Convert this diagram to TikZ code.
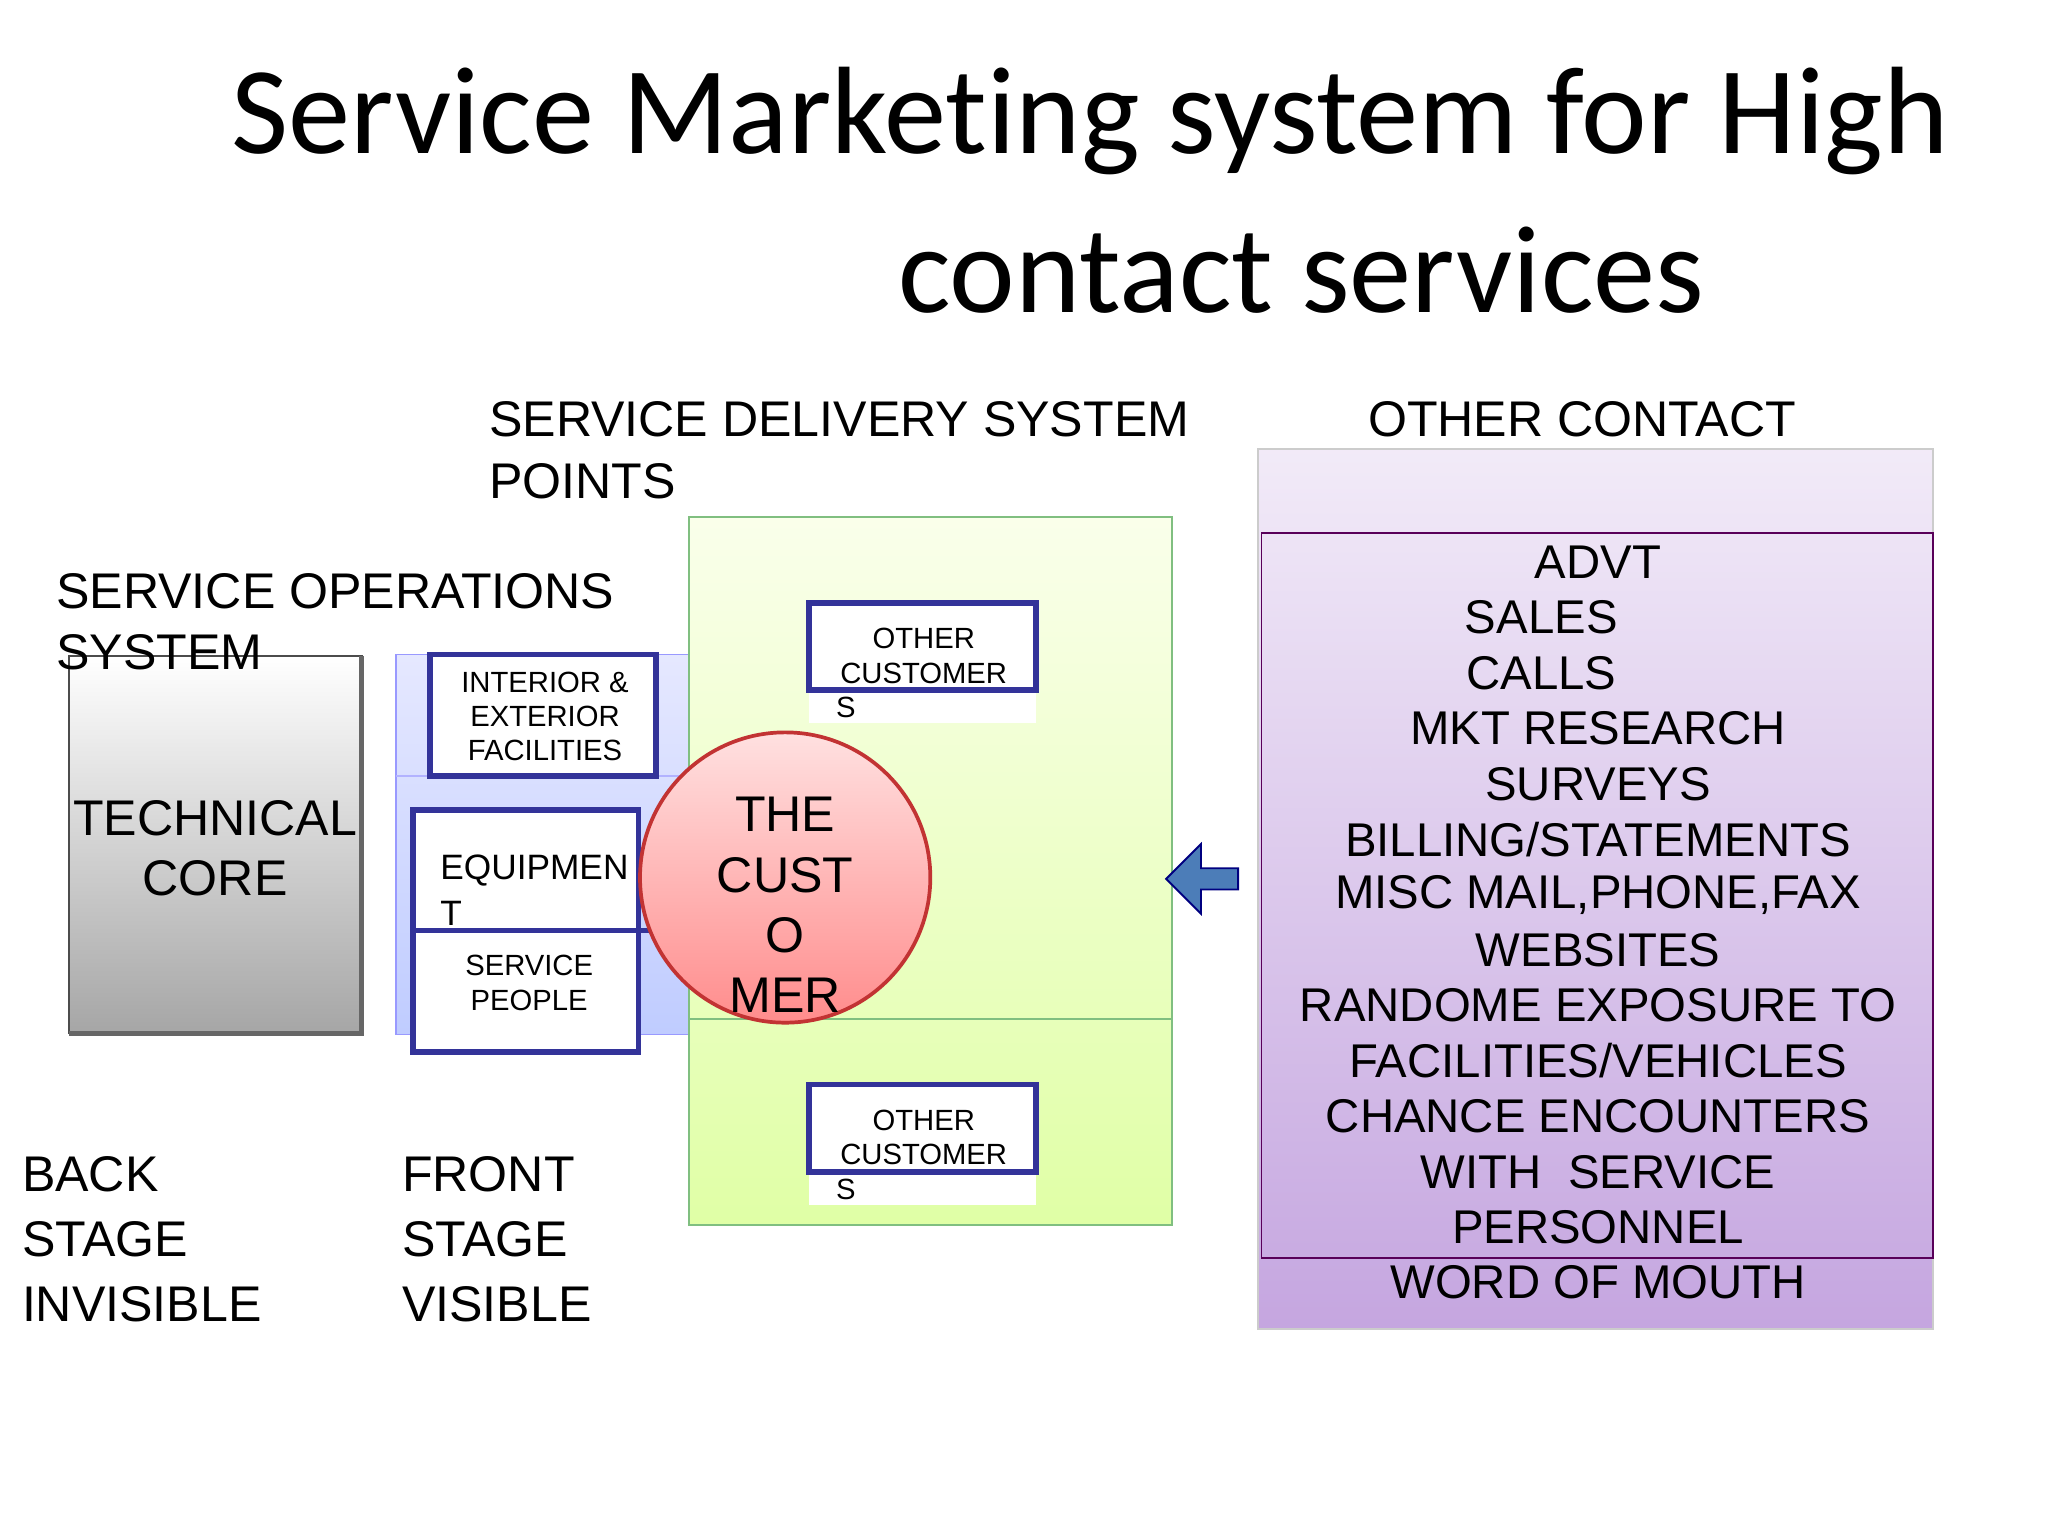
\documentclass[tikz,border=0pt]{standalone}
\usepackage{fontspec}
\setmainfont{Liberation Sans}
\newfontfamily\titlefont[Ligatures=NoCommon]{Carlito}
\usetikzlibrary{shapes.arrows}
\begin{document}
\begin{tikzpicture}[x=0.01cm,y=-0.01cm,
  big/.style={font=\fontsize{10.8}{13}\selectfont},
  sm/.style={font=\fontsize{6.3}{7.4}\selectfont},
  inbox/.style={draw=blue!50!black!80,line width=1.2pt,fill=white},
  lbl/.style={anchor=west,inner sep=0pt,align=left}]
\useasboundingbox (0,0) rectangle (1552,1164);
\node[font=\titlefont\fontsize{26.8}{30}\selectfont] (t1) at (826,92) {Service Marketing system for High};
\node[font=\titlefont\fontsize{26.8}{30}\selectfont] (t2) at (986,205) {contact services};
\node[lbl,big] (sds) at (370,318) {SERVICE DELIVERY SYSTEM};
\node[lbl,big] (pts) at (370,365) {POINTS};
\node[lbl,big] (oc) at (1036,318) {OTHER CONTACT};
% technical core
\shade[top color=white,bottom color=gray!70,draw=black!70] (52,497) rectangle (274,783);
\draw[black!60,line width=1pt] (274,497)--(274,783)--(52,783);
\node[big,align=center] (tc) at (163,643) {TECHNICAL\\CORE};
\node[lbl,big] (sos) at (42,448) {SERVICE OPERATIONS};
\node[lbl,big] (sys) at (42,494) {SYSTEM};
% blue
\shade[top color=cyan!10!blue!10,bottom color=cyan!20!blue!25,draw=blue!40] (300,496) rectangle (522,784);
\draw[blue!30] (300,588)--(522,588);
\draw[inbox] (326,496) rectangle (497,588);
\node[sm,align=center] (ie) at (413,543) {INTERIOR \&\\EXTERIOR\\FACILITIES};
% green
\shade[top color=green!25!yellow!8,bottom color=green!35!yellow!35,draw=green!50!black!50] (522,392) rectangle (888,928);
\draw[green!50!black!50] (522,772)--(888,772);
\draw[inbox] (313,614) rectangle (484,797);
\draw[blue!50!black!80,line width=1.2pt] (313,705)--(497,705);
\node[lbl,font=\fontsize{7.6}{9}\selectfont] (eq) at (333,660) {EQUIPMEN};
\node[lbl,font=\fontsize{7.6}{9}\selectfont] (eqt) at (333,692) {T};
\node[sm,align=center] (sp) at (401,745) {SERVICE\\PEOPLE};
% other customers
\foreach \y/\n in {457/a,822/b}{
  \fill[white] (613,\y) rectangle (785,\y+91);
  \draw[inbox] (613,\y) rectangle (785,\y+66);
  \node[sm,align=center] (oc\n) at (700,\y+40) {OTHER\\CUSTOMER};
  \node[lbl,sm] (s\n) at (633,\y+79) {S};
}
% circle
\shade[top color=red!12,bottom color=red!45,draw=red!70!black!80,line width=0.8pt] (595,665) circle (110);
\node[big,align=center] (cu) at (595,686) {THE\\CUST\\O\\MER};
% arrow
\node[single arrow,shape border rotate=180,fill=blue!55!cyan!60!black!70,draw=blue!50!black,
  minimum width=15pt,minimum height=15.5pt,single arrow head extend=5pt,inner sep=2pt] (ar) at (915,666) {};
% purple
\shade[top color=blue!30!violet!8,bottom color=blue!30!violet!35,draw=gray!40] (953,340) rectangle (1465,1007);
\draw[violet!70!black] (956,404) rectangle (1465,953);
\foreach \t/\x [count=\i] in {ADVT/1211,SALES/1168,CALLS/1168,MKT RESEARCH/1211,SURVEYS/1211,{BILLING/STATEMENTS}/1211,{MISC MAIL,PHONE,FAX}/1211,WEBSITES/1211,RANDOME EXPOSURE TO/1211,{FACILITIES/VEHICLES}/1211,CHANCE ENCOUNTERS/1211,WITH\ \ SERVICE/1211,PERSONNEL/1211,WORD OF MOUTH/1211}
  \node[font=\fontsize{10.2}{12}\selectfont,inner sep=0pt] (p\i) at (\x,384+42*\i) {\t};
% bottom labels
\node[lbl,big,align=left] (bs) at (16,939) {BACK\\[1pt]STAGE\\[1pt]INVISIBLE};
\node[lbl,big,align=left] (fs) at (304,939) {FRONT\\[1pt]STAGE\\[1pt]VISIBLE};
\end{tikzpicture}
\end{document}
